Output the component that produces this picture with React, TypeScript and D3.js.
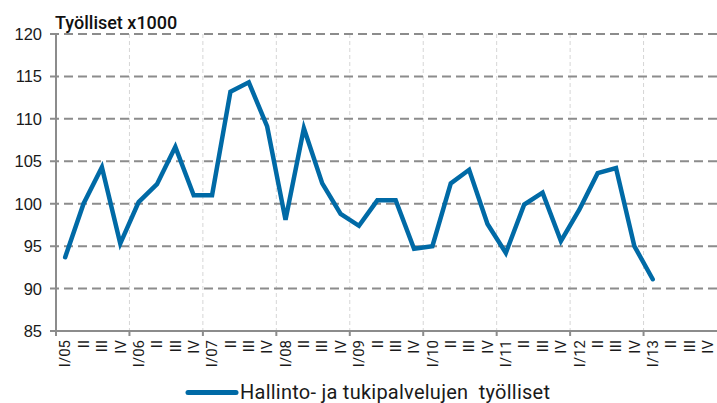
import React from "react";
import * as d3 from "d3";

const years = ["05", "06", "07", "08", "09", "10", "11", "12", "13"];
const quarters = ["I", "II", "III", "IV"];
const categories: string[] = years.flatMap((y) => quarters.map((q) => (q === "I" ? `I/${y}` : q)));
const values = [
  93.7, 100.0, 104.3, 95.3, 100.2, 102.3, 106.7, 101.0, 101.0, 113.2, 114.3, 109.1, 98.1,
  108.9, 102.4, 98.8, 97.4, 100.4, 100.4, 94.7, 95.0, 102.4, 104.0, 97.6, 94.2,
  99.9, 101.3, 95.6, 99.3, 103.6, 104.2, 95.0, 91.1,
];
const yTicks = [85, 90, 95, 100, 105, 110, 115, 120];
const title = "Työlliset x1000";
const seriesName = "Hallinto- ja tukipalvelujen  työlliset";

const W = 717, H = 403;
const left = 56, right = 717, top = 34, bottom = 331;
const color = "#006aa6";

export default function App() {
  const x = d3.scaleBand<string>().domain(categories.map((c, i) => String(i))).range([left, right]);
  const y = d3.scaleLinear().domain([85, 120]).range([bottom, top]);
  const line = d3
    .line<number>()
    .x((_, i) => (x(String(i)) as number) + x.bandwidth() / 2)
    .y((d) => y(d));
  const yearStarts = categories.map((c, i) => i).filter((i) => i % 4 === 0);
  return (
    <svg width={W} height={H} style={{ position: "absolute", left: 0, top: 0, background: "#fff" }}>
      {/* vertical grid */}
      {yearStarts.filter((i) => i > 0).map((i) => (
        <line key={"vg" + i} x1={x(String(i))} x2={x(String(i))} y1={top} y2={bottom}
          stroke="#d6d6d6" strokeWidth={1} strokeDasharray="4,3" />
      ))}
      {/* horizontal grid */}
      {yTicks.filter((t) => t > 85).map((t) => (
        <line key={"hg" + t} x1={left - 6} x2={right} y1={y(t)} y2={y(t)}
          stroke="#8c8c8c" strokeWidth={2} strokeDasharray="9,5" />
      ))}
      {/* axes */}
      <line x1={left} x2={left} y1={top} y2={bottom} stroke="#8c8c8c" strokeWidth={2} />
      <line x1={left - 6} x2={right} y1={bottom} y2={bottom} stroke="#8c8c8c" strokeWidth={2} />
      {yearStarts.map((i) => (
        <line key={"xt" + i} x1={x(String(i))} x2={x(String(i))} y1={bottom} y2={bottom + 5}
          stroke="#8c8c8c" strokeWidth={2} />
      ))}
      {/* y labels */}
      {yTicks.map((t) => (
        <text key={"yl" + t} x={42} y={y(t)} dy="0.36em" textAnchor="end"
          fontFamily="'Liberation Sans', Arial, sans-serif" fontSize={16.5} fill="#1a1a1a">{t}</text>
      ))}
      {/* x labels */}
      {categories.map((c, i) => {
        const cx = (x(String(i)) as number) + x.bandwidth() / 2;
        const cy = 340;
        return (
          <text key={"xl" + i} transform={`translate(${cx},${cy}) rotate(-90)`} dy="0.35em"
            textAnchor="end" fontFamily="Roboto, sans-serif" fontSize={15} fill="#1a1a1a">{c}</text>
        );
      })}
      {/* title */}
      <text x={55} y={29} fontFamily="Roboto, sans-serif" fontWeight={500} fontSize={18} fill="#111">{title}</text>
      {/* series */}
      <path d={line(values) as string} fill="none" stroke={color} strokeWidth={4.5}
        strokeLinejoin="miter" strokeLinecap="round" />
      {/* legend */}
      <line x1={188} x2={236} y1={392.5} y2={392.5} stroke={color} strokeWidth={5} strokeLinecap="round" />
      <text x={240} y={399} fontFamily="Roboto, sans-serif" fontSize={20} fill="#1a1a1a"
        textLength={310} lengthAdjust="spacing" style={{ whiteSpace: "pre" }}>{seriesName}</text>
    </svg>
  );
}
